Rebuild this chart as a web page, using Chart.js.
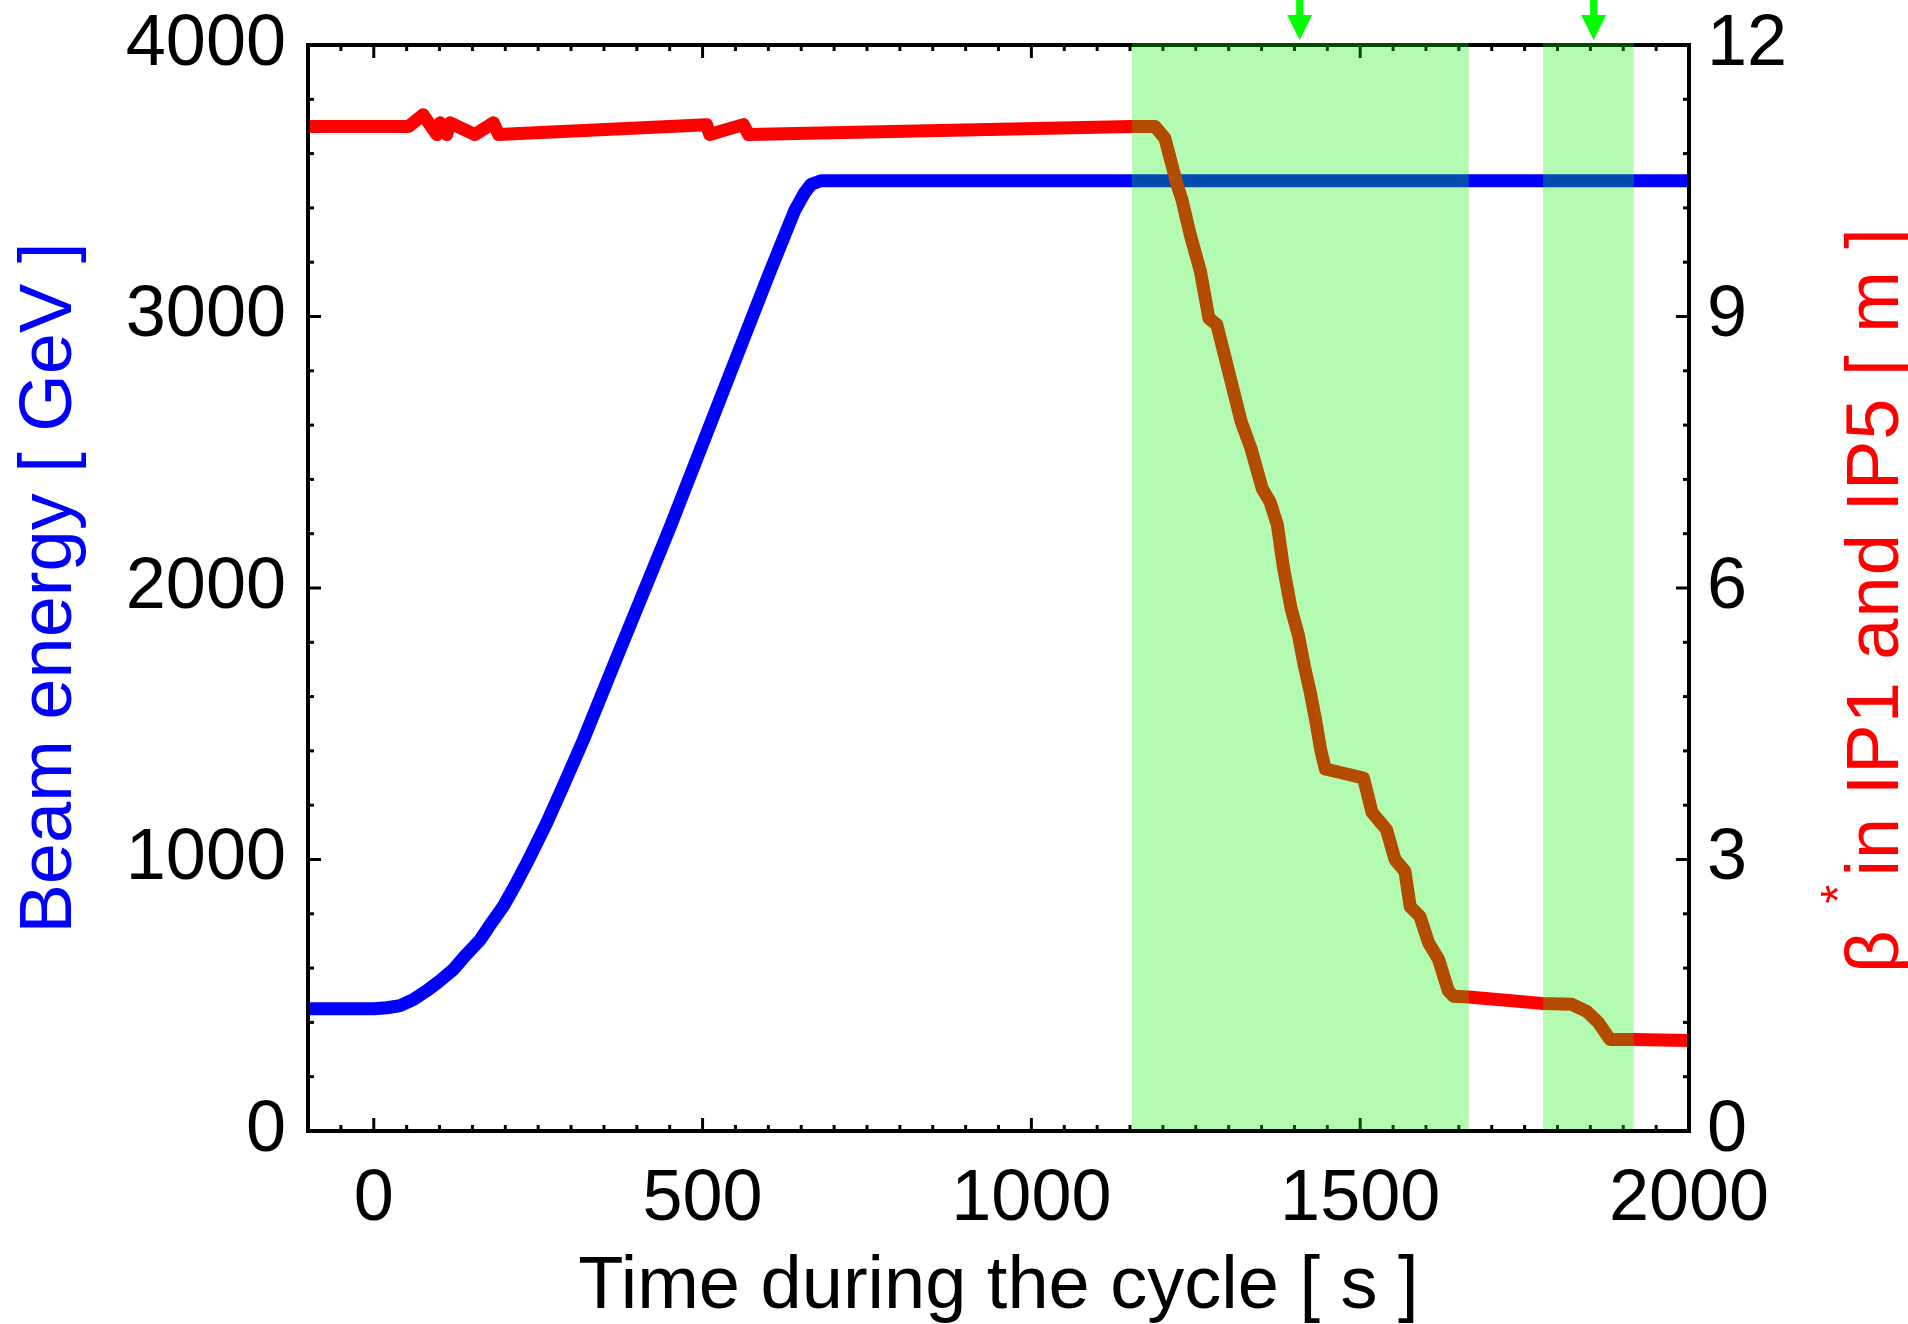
<!DOCTYPE html>
<html>
<head>
<meta charset="utf-8">
<title>Beam energy and beta* during the cycle</title>
<script src="https://cdn.jsdelivr.net/npm/chart.js@4.4.0/dist/chart.umd.min.js"></script>
<style>
  html, body { margin: 0; padding: 0; background: #fff; }
  #wrap { width: 1908px; height: 1324px; position: relative; }
</style>
</head>
<body>
<div id="wrap"><canvas id="cycleChart"></canvas></div>
<script>
// values

// beam energy [GeV] vs time [s]
const beamTime   = [-100, 0, 20, 40, 60, 83, 100, 121, 140, 162, 180, 197, 215, 233, 263, 288, 319, 364, 450, 500, 550, 600, 640, 655, 665, 680, 2000];
const beamEnergy = [450, 450, 454, 462, 484, 521, 552, 595, 648, 705, 770, 828, 905, 988, 1135, 1270, 1442, 1711, 2220, 2530, 2840, 3150, 3390, 3455, 3487, 3500, 3500];

// beta* in IP1 and IP5 [m] vs time [s]
const betaTime = [-100, 53, 75, 96, 101, 111, 116, 154, 182, 190, 506, 511, 562, 570,
  1153, 1188, 1203, 1221, 1229, 1241, 1257, 1270, 1282, 1319, 1334, 1351, 1363, 1374,
  1383, 1395, 1406, 1415, 1424, 1432, 1440, 1447, 1505, 1518, 1540, 1553, 1568, 1576,
  1591, 1604, 1619, 1634, 1642, 1665, 1776, 1822, 1845, 1862, 1880, 1916, 2000];
const betaStar = [11.10, 11.10, 11.23, 11.01, 11.14, 11.01, 11.14, 11.01, 11.14, 11.01, 11.12, 11.01, 11.12, 11.01,
  11.10, 11.10, 10.97, 10.47, 10.29, 9.92, 9.50, 8.98, 8.91, 7.84, 7.54, 7.10, 6.95, 6.70,
  6.24, 5.77, 5.48, 5.14, 4.85, 4.55, 4.21, 4.00, 3.90, 3.52, 3.33, 3.00, 2.87, 2.48,
  2.37, 2.08, 1.90, 1.55, 1.49, 1.48, 1.41, 1.40, 1.32, 1.20, 1.01, 1.01, 1.00];

// tick labels
const xTickValues = [0, 500, 1000, 1500, 2000];
const energyTickValues = [0, 1000, 2000, 3000, 4000];
const betaTickValues = [0, 3, 6, 9, 12];

// green shaded windows and arrows on top
const bandStart = [1153, 1778];
const bandEnd   = [1665, 1916];
const arrowTime = [1408, 1855];

const FONT = "'Liberation Sans', Arial, Helvetica, sans-serif";

function toPoints(xs, ys) {
  return xs.map((x, i) => ({ x: x, y: ys[i] }));
}

function tickLine(ctx, x1, y1, x2, y2) {
  ctx.beginPath();
  ctx.moveTo(x1, y1);
  ctx.lineTo(x2, y2);
  ctx.stroke();
}

// keep chart area where the frame is, labels may hang over
function noPad(s) {
  s.paddingTop = 0;
  s.paddingBottom = 0;
  s.paddingLeft = 0;
  s.paddingRight = 0;
}

// frame + inward ticks on all four sides
const frameTicks = {
  id: 'frameTicks',
  afterDatasetsDraw(chart) {
    const { ctx, chartArea: a, scales } = chart;
    ctx.save();
    ctx.strokeStyle = '#000';
    ctx.lineWidth = 3;
    for (let v = -50; v < 2000; v += 50) {
      const px = scales.x.getPixelForValue(v);
      const len = v % 500 === 0 ? 13 : 6;
      tickLine(ctx, px, a.bottom, px, a.bottom - len);
      tickLine(ctx, px, a.top, px, a.top + len);
    }
    for (let v = 200; v < 4000; v += 200) {
      const py = scales.yE.getPixelForValue(v);
      const len = v % 1000 === 0 ? 13 : 6;
      tickLine(ctx, a.left, py, a.left + len, py);
    }
    for (let k = 1; k < 20; k++) {
      const py = scales.yB.getPixelForValue(k * 0.6);
      const len = k % 5 === 0 ? 13 : 6;
      tickLine(ctx, a.right, py, a.right - len, py);
    }
    ctx.lineWidth = 4;
    ctx.strokeRect(a.left, a.top, a.right - a.left, a.bottom - a.top);
    ctx.restore();
  }
};

// green windows, arrows, right axis title
const overlays = {
  id: 'overlays',
  afterDraw(chart) {
    const { ctx, chartArea: a, scales } = chart;
    ctx.save();
    ctx.fillStyle = 'rgba(10, 242, 0, 0.31)';
    for (let i = 0; i < bandStart.length; i++) {
      const x1 = scales.x.getPixelForValue(bandStart[i]);
      const x2 = scales.x.getPixelForValue(bandEnd[i]);
      ctx.fillRect(x1, a.top - 2, x2 - x1, a.bottom - a.top);
    }

    ctx.fillStyle = '#00ff00';
    arrowTime.forEach(t => {
      const x = scales.x.getPixelForValue(t);
      ctx.fillRect(x - 3.5, 0, 7, 18);
      ctx.beginPath();
      ctx.moveTo(x - 12.5, 15);
      ctx.lineTo(x + 12.5, 15);
      ctx.lineTo(x, a.top - 5);
      ctx.closePath();
      ctx.fill();
    });

    // beta* title, reads bottom to top
    ctx.fillStyle = '#ff0000';
    ctx.translate(1898, 973);
    ctx.rotate(-Math.PI / 2);
    ctx.textBaseline = 'alphabetic';
    ctx.textAlign = 'left';
    ctx.font = '74px ' + FONT;
    ctx.fillText('\u03B2', 0, 0);
    const wb = ctx.measureText('\u03B2').width;
    ctx.font = '48px ' + FONT;
    ctx.fillText('*', wb + 27, -44);
    ctx.font = '74px ' + FONT;
    ctx.letterSpacing = '1px';
    ctx.fillText('in IP1 and IP5 [ m ]', wb + 54, 0);
    ctx.restore();
  }
};

new Chart(document.getElementById('cycleChart'), {
  type: 'line',
  data: {
    datasets: [
      {
        label: 'beta*',
        data: toPoints(betaTime, betaStar),
        xAxisID: 'x',
        yAxisID: 'yB',
        borderColor: '#ff0000',
        borderWidth: 13,
        borderJoinStyle: 'round',
        pointRadius: 0,
        tension: 0
      },
      {
        label: 'Beam energy',
        data: toPoints(beamTime, beamEnergy),
        xAxisID: 'x',
        yAxisID: 'yE',
        borderColor: '#0000ff',
        borderWidth: 13,
        borderJoinStyle: 'round',
        pointRadius: 0,
        tension: 0
      }
    ]
  },
  options: {
    responsive: true,
    maintainAspectRatio: false,
    devicePixelRatio: 1,
    animation: false,
    layout: { padding: { top: 45, left: 0, right: 0, bottom: 0 } },
    plugins: {
      legend: { display: false },
      tooltip: { enabled: false }
    },
    scales: {
      x: {
        type: 'linear',
        position: 'bottom',
        min: -100,
        max: 2000,
        afterBuildTicks: s => { s.ticks = xTickValues.map(v => ({ value: v })); },
        afterFit: s => { s.height = 193; noPad(s); },
        grid: { display: false, drawTicks: false },
        border: { display: false },
        ticks: {
          color: '#000', padding: 26, maxRotation: 0, autoSkip: false,
          font: { family: FONT, size: 72 },
          callback: v => String(v)
        },
        title: {
          display: true,
          text: 'Time during the cycle [ s ]',
          color: '#000',
          font: { family: FONT, size: 74, lineHeight: 1 },
          padding: { top: 0, bottom: -1 }
        }
      },
      yE: {
        type: 'linear',
        position: 'left',
        min: 0,
        max: 4000,
        afterBuildTicks: s => { s.ticks = energyTickValues.map(v => ({ value: v })); },
        afterFit: s => { s.width = 308; noPad(s); },
        grid: { display: false, drawTicks: false },
        border: { display: false },
        ticks: {
          color: '#000', padding: 22,
          font: { family: FONT, size: 72 },
          callback: v => String(v)
        },
        title: {
          display: true,
          text: 'Beam energy [ GeV ]',
          color: '#0000ff',
          font: { family: FONT, size: 74, lineHeight: 1 },
          padding: { top: 14, bottom: 0 }
        }
      },
      yB: {
        type: 'linear',
        position: 'right',
        min: 0,
        max: 12,
        afterBuildTicks: s => { s.ticks = betaTickValues.map(v => ({ value: v })); },
        afterFit: s => { s.width = 219; noPad(s); },
        grid: { display: false, drawTicks: false },
        border: { display: false },
        ticks: {
          color: '#000', padding: 18,
          font: { family: FONT, size: 72 },
          callback: v => String(v)
        },
        title: { display: false }
      }
    }
  },
  plugins: [frameTicks, overlays]
});
</script>
</body>
</html>
